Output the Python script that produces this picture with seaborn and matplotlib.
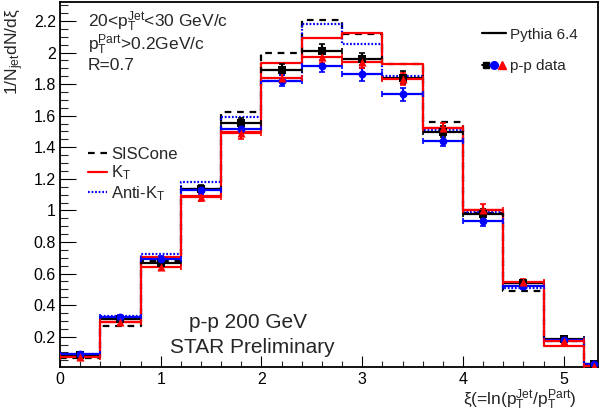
import numpy as np
import pandas as pd
import matplotlib
matplotlib.use("Agg")
import matplotlib.pyplot as plt
import seaborn as sns
from matplotlib.lines import Line2D
from matplotlib.legend_handler import HandlerTuple
from matplotlib.ticker import MultipleLocator, FormatStrFormatter

# ---------------- data ----------------
bin_edges = [0.0, 0.4, 0.8, 1.2, 1.6, 2.0, 2.4, 2.8, 3.2, 3.6, 4.0, 4.4, 4.8, 5.2, 5.4]
bin_centers = [0.2, 0.6, 1.0, 1.4, 1.8, 2.2, 2.6, 3.0, 3.4, 3.8, 4.2, 4.6, 5.0, 5.3]

# Pythia 6.4 histograms
siscone = [0.062, 0.265, 0.68, 1.137, 1.622, 2.00, 2.206, 2.12, 1.925, 1.559, 0.985, 0.49, 0.17, 0.02]
kt = [0.075, 0.29, 0.704, 1.092, 1.495, 1.935, 2.09, 2.126, 1.925, 1.52, 1.004, 0.54, 0.143, 0.015]
antikt = [0.09, 0.33, 0.723, 1.177, 1.59, 1.82, 2.18, 2.053, 1.852, 1.51, 0.99, 0.51, 0.17, 0.02]

# p-p data points (SISCone black, Anti-kT blue, kT red)
data_black = [0.085, 0.31, 0.667, 1.135, 1.554, 1.89, 2.012, 1.958, 1.84, 1.497, 0.977, 0.537, 0.185, 0.028]
err_black = [0.01, 0.015, 0.02, 0.025, 0.03, 0.035, 0.04, 0.04, 0.04, 0.035, 0.03, 0.02, 0.012, 0.008]
data_blue = [0.09, 0.325, 0.69, 1.13, 1.518, 1.822, 1.915, 1.861, 1.736, 1.44, 0.934, 0.52, 0.178, 0.025]
err_blue = [0.01, 0.015, 0.02, 0.025, 0.03, 0.035, 0.04, 0.04, 0.04, 0.035, 0.03, 0.02, 0.012, 0.008]
data_red = [0.07, 0.29, 0.64, 1.085, 1.49, 1.84, 1.974, 1.94, 1.833, 1.52, 1.005, 0.545, 0.172, 0.015]
err_red = [0.01, 0.015, 0.02, 0.025, 0.035, 0.035, 0.04, 0.04, 0.04, 0.035, 0.035, 0.02, 0.012, 0.008]

# ---------------- style ----------------
sns.set_theme(style="white")
plt.rcParams.update({
    "font.family": ["Liberation Sans", "DejaVu Sans"],
    "mathtext.fontset": "custom",
    "mathtext.rm": "Liberation Sans",
    "mathtext.it": "Liberation Sans:italic",
    "mathtext.bf": "Liberation Sans:bold",
    "axes.edgecolor": "black",
    "axes.linewidth": 1.3,
})

W, H = 600, 413
fig = plt.figure(figsize=(W / 100, H / 100), dpi=100)
fig.patch.set_facecolor("white")
ax = fig.add_axes([60 / W, 1 - 366.7 / H, 538 / W, 364.7 / H])
ax.set_facecolor("white")

half_widths = np.diff(bin_edges) / 2.0

# histograms
hist_specs = [
    (siscone, "black", (0, (3.0, 2.6)), "SISCone"),
    (antikt, "blue", (0, (0.8, 0.8)), "Anti-K$_{\\mathrm{T}}$"),
    (kt, "red", "-", "K$_{\\mathrm{T}}$"),
]
hist_handles = {}
for vals, col, ls, lab in hist_specs:
    sns.histplot(x=bin_centers, weights=vals, bins=bin_edges, element="step",
                 fill=False, color=col, linestyle=ls, linewidth=1.6, ax=ax)
    hist_handles[lab] = Line2D([], [], color=col, linestyle=ls, linewidth=1.6)

# data points
pts = [
    (data_black, err_black, "black", "s", 28),
    (data_blue, err_blue, "blue", "o", 32),
    (data_red, err_red, "red", "^", 34),
]
for vals, errs, col, mk, sz in pts:
    ax.errorbar(bin_centers, vals, xerr=half_widths, yerr=errs, fmt="none",
                ecolor=col, elinewidth=1.6, capsize=2.2, capthick=1.2, zorder=4)
    sns.scatterplot(x=bin_centers, y=vals, color=col, marker=mk, s=sz,
                    edgecolor=col, linewidth=0, ax=ax, zorder=5)

# axes
ax.set_xlim(0, 5.34)
ax.set_ylim(0.01, 2.32)
ax.set_xlabel("")
ax.set_ylabel("")
ax.xaxis.set_major_locator(MultipleLocator(1))
ax.xaxis.set_minor_locator(MultipleLocator(0.2))
ax.yaxis.set_major_locator(MultipleLocator(0.2))
ax.yaxis.set_minor_locator(MultipleLocator(0.05))
ax.yaxis.set_major_formatter(FormatStrFormatter("%g"))
ax.xaxis.set_major_formatter(FormatStrFormatter("%g"))
ax.tick_params(axis="y", which="major", direction="in", length=11.5, width=0.8,
               labelsize=11.5, pad=3, left=True, right=False, colors="black")
ax.tick_params(axis="y", which="minor", direction="in", length=5.8, width=0.8,
               left=True, right=False)
ax.tick_params(axis="x", which="major", direction="in", length=8, width=0.8,
               labelsize=11.5, pad=4, bottom=True, top=False, colors="black")
ax.tick_params(axis="x", which="minor", direction="in", length=4, width=0.8,
               bottom=True, top=False)
for sp in ax.spines.values():
    sp.set_visible(True)
    sp.set_color("black")

# legends
leg1_handles = [
    Line2D([], [], color="black", lw=1.6),
    (Line2D([], [], color="black", marker="s", markersize=5, lw=1.4),
     Line2D([], [], color="blue", marker="o", markersize=5.5, lw=1.4),
     Line2D([], [], color="red", marker="^", markersize=6, lw=0)),
]
leg1 = ax.legend(leg1_handles, ["Pythia 6.4", "p-p data"],
                 handler_map={tuple: HandlerTuple(ndivide=None, pad=0)},
                 loc="upper left", bbox_to_anchor=(0.784, 0.93), frameon=False,
                 fontsize=11, handlelength=1.6, handletextpad=0.25,
                 labelspacing=1.15, borderpad=0, borderaxespad=0)
ax.add_artist(leg1)

labs2 = ["SISCone", "K$_{\\mathrm{T}}$", "Anti-K$_{\\mathrm{T}}$"]
ax.legend([hist_handles[l] for l in labs2], labs2, loc="upper left",
          bbox_to_anchor=(0.052, 0.603), frameon=False, fontsize=12,
          handlelength=1.15, handletextpad=0.25, labelspacing=0.1,
          borderpad=0, borderaxespad=0)

# annotations (pixel positions converted to figure fractions)
def ft(px, py, s, **kw):
    fig.text(px / W, 1 - py / H, s, **kw)

ft(88, 27, "20<p$_{\\mathrm{T}}^{\\mathrm{Jet}}$<30 GeV/c", fontsize=12.5, va="baseline")
ft(88, 49.5, "p$_{\\mathrm{T}}^{\\mathrm{Part}}$>0.2GeV/c", fontsize=12.5, va="baseline")
ft(88, 69.5, "R=0.7", fontsize=12.5, va="baseline")
ft(248, 328.5, "p-p 200 GeV", fontsize=15, ha="center", va="baseline")
ft(252.5, 353, "STAR Preliminary", fontsize=15, ha="center", va="baseline")
ft(15, 8.5, "1/N$_{\\mathrm{jet}}$dN/dξ", fontsize=12.5, rotation=90, ha="center", va="top")
ft(577, 405, "ξ(=ln(p$_{\\mathrm{T}}^{\\mathrm{Jet}}$/p$_{\\mathrm{T}}^{\\mathrm{Part}}$)",
   fontsize=12.5, ha="right", va="baseline")

fig.savefig("out.png", dpi=100, facecolor="white")
